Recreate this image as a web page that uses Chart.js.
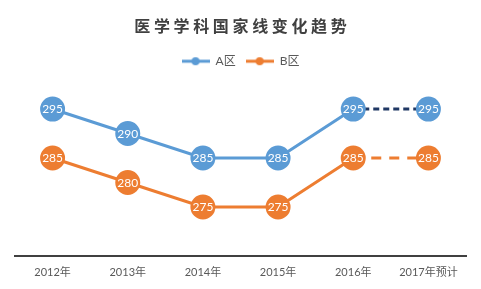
<!DOCTYPE html>
<html>
<head>
<meta charset="utf-8">
<script src="https://cdn.jsdelivr.net/npm/chart.js@4/dist/chart.umd.min.js"></script>
<style>
  body { margin: 0; background: #fff; }
</style>
</head>
<body>
<canvas id="myChart" width="481" height="289"></canvas>
<script>
var years = ["2012年", "2013年", "2014年", "2015年", "2016年", "2017年预计"];
var areaA = [295, 290, 285, 285, 295, 295];
var areaB = [285, 280, 275, 275, 285, 285];

var blue = '#5B9BD5';
var orange = '#ED7D31';
var darkBlue = '#203864';

// little "line with a dot" marker for the legend
function legendMark(color) {
    var c = document.createElement('canvas');
    c.width = 28;
    c.height = 10;
    var g = c.getContext('2d');
    g.strokeStyle = color;
    g.lineWidth = 3;
    g.beginPath();
    g.moveTo(0, 5);
    g.lineTo(28, 5);
    g.stroke();
    g.fillStyle = color;
    g.beginPath();
    g.arc(14, 5, 4, 0, Math.PI * 2);
    g.fill();
    return c;
}

// white numbers inside each circle
var valueLabels = {
    id: 'valueLabels',
    afterDatasetsDraw: function(chart) {
        var ctx = chart.ctx;
        ctx.save();
        ctx.fillStyle = '#fff';
        ctx.font = '12px Lato, "Noto Sans CJK SC", sans-serif';
        ctx.textAlign = 'center';
        ctx.textBaseline = 'middle';
        chart.data.datasets.forEach(function(ds, i) {
            chart.getDatasetMeta(i).data.forEach(function(pt, j) {
                ctx.fillText(ds.data[j], pt.x, pt.y + 0.5);
            });
        });
        ctx.restore();
    }
};

var config = {
    type: 'line',
    data: {
        labels: years,
        datasets: [{
            label: 'A区',
            data: areaA,
            borderColor: blue,
            backgroundColor: blue,
            pointBackgroundColor: blue,
            pointBorderColor: blue,
            borderWidth: 3,
            pointRadius: 11,
            pointHoverRadius: 11,
            clip: false,
            segment: {
                borderColor: function(c) { return c.p1DataIndex === 5 ? darkBlue : undefined; },
                borderDash: function(c) { return c.p1DataIndex === 5 ? [6, 4] : undefined; }
            }
        }, {
            label: 'B区',
            data: areaB,
            borderColor: orange,
            backgroundColor: orange,
            pointBackgroundColor: orange,
            pointBorderColor: orange,
            borderWidth: 3,
            pointRadius: 11,
            pointHoverRadius: 11,
            clip: false,
            segment: {
                borderDash: function(c) { return c.p1DataIndex === 5 ? [10, 8] : undefined; }
            }
        }]
    },
    options: {
        responsive: false,
        animation: false,
        layout: { padding: { top: 6, left: 15, right: 15, bottom: 0 } },
        plugins: {
            title: {
                display: true,
                text: '医 学 学 科 国 家 线 变 化 趋 势',
                color: '#404040',
                font: { size: 16, weight: 'bold', family: '"Noto Sans CJK SC", sans-serif' },
                padding: { top: 10, bottom: 10 }
            },
            legend: {
                display: true,
                labels: {
                    usePointStyle: true,
                    pointStyleWidth: 28,
                    color: '#595959',
                    font: { size: 12, family: 'Lato, "Noto Sans CJK SC", sans-serif' },
                    generateLabels: function(chart) {
                        var items = Chart.defaults.plugins.legend.labels.generateLabels(chart);
                        items.forEach(function(it, i) {
                            it.pointStyle = legendMark(i === 0 ? blue : orange);
                        });
                        return items;
                    }
                }
            },
            tooltip: { enabled: false }
        },
        scales: {
            x: {
                offset: true,
                grid: { display: false, drawTicks: false, offset: true },
                border: { display: true, color: '#404040', width: 2 },
                ticks: {
                    color: '#595959',
                    padding: 10,
                    font: { size: 11, family: 'Lato, "Noto Sans CJK SC", sans-serif' }
                },
                afterFit: function(s) { s.height = 33; }
            },
            y: {
                display: false,
                min: 265,
                max: 301.5
            }
        }
    },
    plugins: [valueLabels]
};

window.onload = function() {
    var ctx = document.getElementById("myChart");
    window.myLine = new Chart(ctx, config);
};
</script>
</body>
</html>
